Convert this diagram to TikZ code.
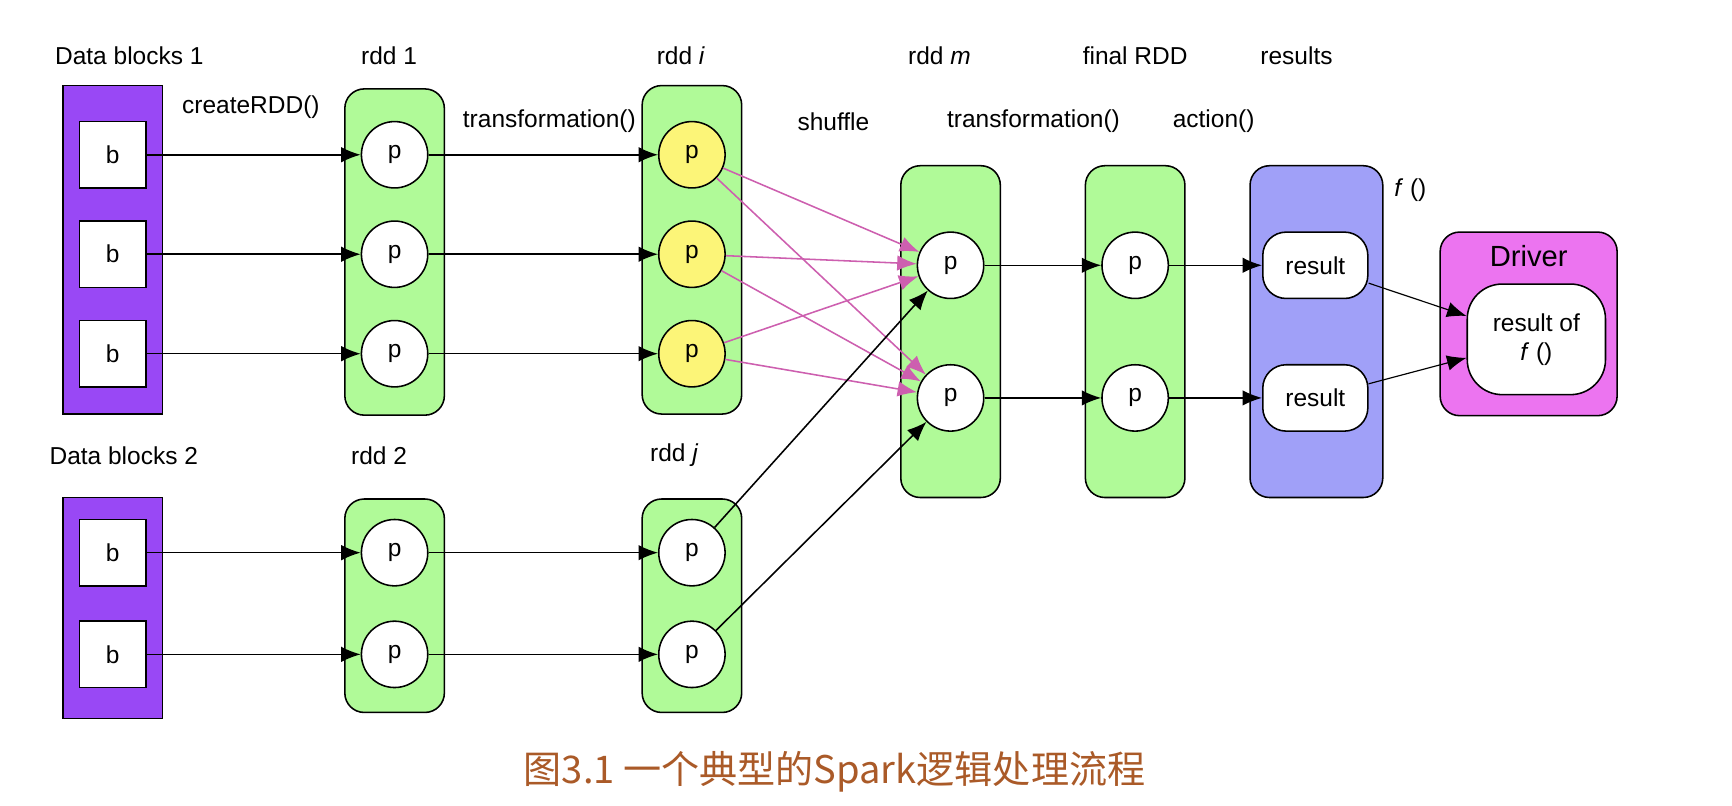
\documentclass[tikz,border=0pt]{standalone}
\usepackage{fontspec}
\setmainfont{Liberation Sans}
\newfontfamily\cjk{Noto Sans CJK SC}
\usetikzlibrary{arrows.meta}
\definecolor{blockpurple}{RGB}{153,72,245}
\definecolor{rddgreen}{RGB}{176,250,152}
\definecolor{pyellow}{RGB}{252,245,120}
\definecolor{resblue}{RGB}{160,160,248}
\definecolor{drvpink}{RGB}{236,116,240}
\definecolor{shufpink}{RGB}{205,95,175}
\definecolor{captbrown}{RGB}{170,90,40}
\tikzset{
  lbl/.style={font=\fontsize{6.3}{7.5}\selectfont},
  box/.style={draw,thin,rounded corners=5pt,minimum width=0.9cm},
  blk/.style={draw,fill=blockpurple,thin,minimum width=0.9cm},
  b/.style={draw,fill=white,minimum width=0.6cm,minimum height=0.6cm,lbl},
  p/.style={draw,circle,fill=white,minimum size=0.6cm,inner sep=0pt,lbl},
  res/.style={draw,fill=white,rounded corners=6pt,minimum width=0.95cm,minimum height=0.6cm,lbl},
  arr/.style={-{Latex[length=5pt,width=4pt]},thin},
  shuf/.style={-{Latex[length=5pt,width=4pt]},shufpink,thin}
}
\begin{document}
\begin{tikzpicture}[x=0.01cm,y=-0.01cm]
\useasboundingbox (0,0) rectangle (1567,729);
% containers
\node[blk,minimum height=2.97cm] (db1) at (102,226) {};
\node[blk,minimum height=2.0cm] (db2) at (102,550) {};
\node[box,fill=rddgreen,minimum height=2.95cm] (r1) at (357,228) {};
\node[box,fill=rddgreen,minimum height=1.93cm] (r2) at (357,548) {};
\node[box,fill=rddgreen,minimum height=2.97cm] (ri) at (626,226) {};
\node[box,fill=rddgreen,minimum height=1.93cm] (rj) at (626,548) {};
\node[box,fill=rddgreen,minimum height=3.0cm] (rm) at (860,300) {};
\node[box,fill=rddgreen,minimum height=3.0cm] (rf) at (1027,300) {};
\node[box,fill=resblue,minimum width=1.2cm,minimum height=3.0cm] (rs) at (1191,300) {};
\node[box,fill=drvpink,minimum width=1.6cm,minimum height=1.66cm] (drv) at (1383,293) {};
% labels
\node[lbl] (t1) at (117,50) {Data blocks 1};
\node[lbl] (t2) at (352,50) {rdd 1};
\node[lbl] (t3) at (616,50) {rdd \textit{i}};
\node[lbl] (t4) at (850,50) {rdd \textit{m}};
\node[lbl] (t5) at (1027,50) {final RDD};
\node[lbl] (t6) at (1173,50) {results};
\node[lbl] (t7) at (227,97) {createRDD()};
\node[lbl] (t8) at (497,110) {transformation()};
\node[lbl] (t9) at (754,110) {shuffle};
\node[lbl] (t10) at (935,110) {transformation()};
\node[lbl] (t11) at (1098,110) {action()};
\node[lbl] (t12) at (1276,172) {\textit{f} ()};
\node[lbl] (t13) at (112,412) {Data blocks 2};
\node[lbl] (t14) at (343,412) {rdd 2};
\node[lbl] (t15) at (610,412) {rdd \textit{j}};
\node[lbl] (t16) at (1383,232) {\fontsize{7.5}{9}\selectfont Driver};
% partitions
\foreach \k/\y in {1/140,2/230,3/320}{
  \node[b] (b\k) at (102,\y) {b};
  \node[p] (p\k) at (357,\y) {p};
  \node[p,fill=pyellow] (pi\k) at (626,\y) {p};
  \draw[arr] (b\k) -- (p\k);
  \draw[arr] (p\k) -- (pi\k);
}
\foreach \k/\y in {4/500,5/592}{
  \node[b] (b\k) at (102,\y) {b};
  \node[p] (p\k) at (357,\y) {p};
  \node[p] (pj\k) at (626,\y) {p};
  \draw[arr] (b\k) -- (p\k);
  \draw[arr] (p\k) -- (pj\k);
}
\foreach \k/\y in {1/240,2/360}{
  \node[p] (pm\k) at (860,\y) {p};
  \node[p] (pf\k) at (1027,\y) {p};
  \node[res] (res\k) at (1190,\y) {result};
  \draw[arr] (pm\k) -- (pf\k);
  \draw[arr] (pf\k) -- (res\k);
}
\node[res,minimum width=1.25cm,minimum height=1.0cm,align=center,rounded corners=9pt] (fres) at (1390,307) {result of\\\textit{f} ()};
% shuffle
\foreach \k in {1,2,3}{
  \draw[shuf] (pi\k) -- (pm1);
  \draw[shuf] (pi\k) -- (pm2);
}
\draw[arr] (pj4) -- (pm1);
\draw[arr] (pj5) -- (pm2);
\draw[arr,line width=0.3pt] (res1) -- (fres);
\draw[arr,line width=0.3pt] (res2) -- (fres);
% caption
\node[text=captbrown,font=\cjk\fontsize{9.8}{12}\selectfont] (cap) at (755,698) {图3.1 一个典型的Spark逻辑处理流程};
\end{tikzpicture}
\end{document}
